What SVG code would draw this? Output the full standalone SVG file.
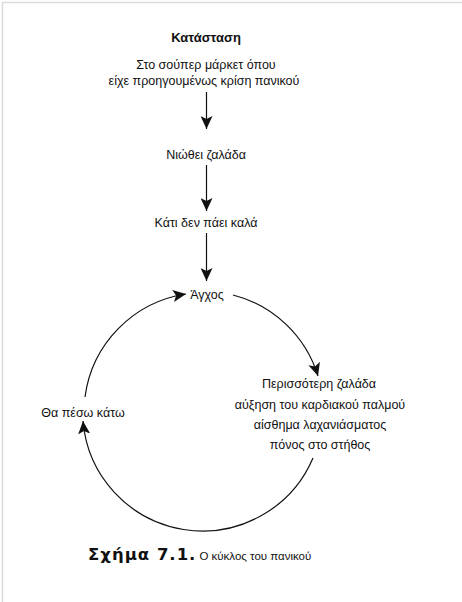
<svg xmlns="http://www.w3.org/2000/svg" width="462" height="602" viewBox="0 0 462 602">
<defs>
<style>
.t{font-family:"Liberation Sans",Arial,sans-serif;font-size:12.5px;fill:#111;text-anchor:middle}
.b{font-weight:bold}
.ln{fill:none;stroke:#111;stroke-width:1.2}
.frame{fill:none;stroke:#dcdcdc;stroke-width:1.5}
.cb{font-family:"DejaVu Sans",Verdana,sans-serif;font-size:16.5px;font-weight:bold;fill:#111;letter-spacing:1px}
.cr{font-family:"Liberation Sans",Arial,sans-serif;font-size:11.5px;fill:#111}
</style>
<marker id="ah" markerUnits="userSpaceOnUse" markerWidth="14" markerHeight="12" viewBox="0 0 14 12" refX="13" refY="6" orient="auto">
<path d="M0,0 L13,6 L0,12 L3,6 Z" fill="#111"/>
</marker>
</defs>
<rect width="462" height="602" fill="#fff"/>
<polyline class="frame" points="2.5,602 2.5,2.5 462,2.5"/>
<g id="connectors">
<line class="ln" x1="206.5" y1="92" x2="206.5" y2="129" marker-end="url(#ah)"/>
<line class="ln" x1="206.5" y1="165" x2="206.5" y2="211" marker-end="url(#ah)"/>
<line class="ln" x1="206.5" y1="233" x2="206.5" y2="281" marker-end="url(#ah)"/>
<path class="ln" d="M85,397 A120,120 0 0 1 186,294" marker-end="url(#ah)"/>
<path class="ln" d="M233,295 A120,120 0 0 1 318,376" marker-end="url(#ah)"/>
<path class="ln" d="M313,458 A120,120 0 0 1 83,421" marker-end="url(#ah)"/>
</g>
<g id="title"><text class="t b" x="206" y="42" style="font-size:13px">Κατάσταση</text></g>
<g id="situation">
<text class="t" x="206" y="69">Στο σούπερ μάρκετ όπου</text>
<text class="t" x="204" y="85">είχε προηγουμένως κρίση πανικού</text>
</g>
<g id="dizzy"><text class="t" x="206" y="159">Νιώθει ζαλάδα</text></g>
<g id="wrong"><text class="t" x="206" y="227">Κάτι δεν πάει καλά</text></g>
<g id="anxiety"><text class="t" x="207" y="299">Άγχος</text></g>
<g id="symptoms">
<text class="t" x="319" y="388">Περισσότερη ζαλάδα</text>
<text class="t" x="320" y="409">αύξηση του καρδιακού παλμού</text>
<text class="t" x="320" y="429">αίσθημα λαχανιάσματος</text>
<text class="t" x="320" y="449">πόνος στο στήθος</text>
</g>
<g id="fall"><text class="t" x="83" y="417">Θα πέσω κάτω</text></g>
<g id="caption">
<text x="88" y="560"><tspan class="cb">Σχήμα 7.1.</tspan><tspan class="cr" dx="3">Ο κύκλος του πανικού</tspan></text>
</g>
</svg>
